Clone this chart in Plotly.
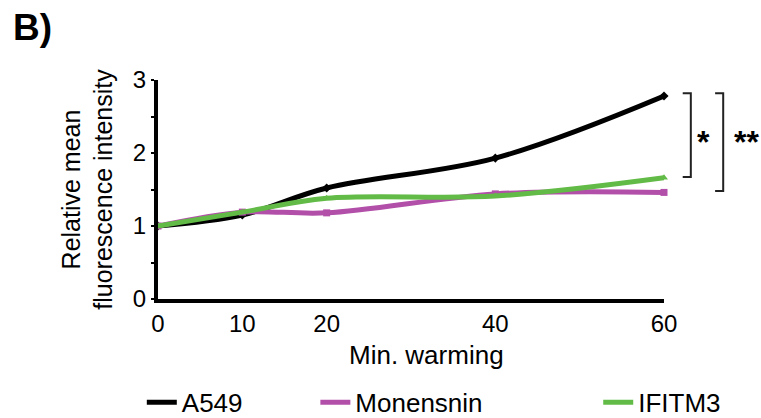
import plotly.graph_objects as go

minutes = [0, 10, 20, 40, 60]
a549 = [1.0, 1.15, 1.52, 1.93, 2.78]
monensnin = [1.0, 1.19, 1.18, 1.44, 1.46]
ifitm3 = [1.0, 1.19, 1.38, 1.41, 1.66]
x_ticks = [0, 10, 20, 40, 60]
y_ticks = [0, 1, 2, 3]

FONT = "Liberation Sans, Arial, sans-serif"
BLACK = "#000000"
MAGENTA = "#B24FA9"
GREEN = "#62BB46"

fig = go.Figure()
series = [
    ("A549", a549, BLACK, "diamond", "legend"),
    ("Monensnin", monensnin, MAGENTA, "square", "legend2"),
    ("IFITM3", ifitm3, GREEN, "triangle-up", "legend3"),
]
for name, vals, col, sym, lg in series:
    fig.add_trace(go.Scatter(
        x=minutes, y=vals, name=name, mode="lines",
        line=dict(color=col, width=5, shape="spline", smoothing=1),
        cliponaxis=False, legend=lg,
    ))
    fig.add_trace(go.Scatter(
        x=minutes, y=vals, name=name, mode="markers", showlegend=False,
        marker=dict(color=col, symbol=sym, size=7),
        cliponaxis=False, legend=lg,
    ))

# significance brackets
star_y = (a549[-1] + monensnin[-1]) / 2


def bracket(xp, y_top, y_bot, label, lx, anchor):
    fig.add_shape(type="path", xref="paper", yref="y",
                  path=f"M {xp-0.016} {y_top} L {xp} {y_top} L {xp} {y_bot} L {xp-0.016} {y_bot}",
                  line=dict(color="#222222", width=2))
    fig.add_annotation(xref="paper", yref="y", x=lx, y=star_y, yshift=2, xanchor=anchor,
                       text=f"<b>{label}</b>", showarrow=False,
                       font=dict(family=FONT, size=32, color=BLACK))

bracket(1.053, a549[-1] + 0.04, ifitm3[-1] + 0.01, "*", 1.078, "center")
bracket(1.117, a549[-1] + 0.04, monensnin[-1] + 0.02, "**", 1.134, "left")

fig.add_annotation(xref="paper", yref="paper", x=-0.29, y=1.24, xanchor="left", yanchor="middle",
                   text="<b>B)</b>", showarrow=False, font=dict(family=FONT, size=37, color=BLACK))

# x-axis title (sits slightly right of centre in the original)
fig.add_annotation(xref="paper", yref="paper", x=0.53, y=-0.256, xanchor="center", yanchor="middle",
                   text="Min. warming", showarrow=False, font=dict(family=FONT, size=26, color=BLACK))

leg_common = dict(orientation="h", yanchor="middle", y=-0.472, xanchor="left",
                  font=dict(family=FONT, size=26, color=BLACK), bgcolor="rgba(0,0,0,0)",
                  itemwidth=30, tracegroupgap=0)

fig.update_layout(
    width=761, height=418,
    margin=dict(l=158, r=97, t=80, b=119, autoexpand=False),
    paper_bgcolor="white", plot_bgcolor="white",
    font=dict(family=FONT, size=24, color=BLACK),
    showlegend=True,
    legend=dict(x=-0.032, **leg_common),
    legend2=dict(x=0.311, **leg_common),
    legend3=dict(x=0.870, **leg_common),
    xaxis=dict(range=[0, 60], tickvals=x_ticks, ticktext=[str(v) for v in x_ticks],
               showline=True, linecolor=BLACK, linewidth=4, showgrid=False, zeroline=False,
               ticks="", tickfont=dict(size=24), automargin=False),
    yaxis=dict(range=[0, 3], tickvals=y_ticks, showline=True, linecolor=BLACK, linewidth=4,
               showgrid=False, zeroline=False, ticks="outside", ticklen=3, tickwidth=2,
               tickcolor=BLACK, tickfont=dict(size=24), automargin=False,
               minor=dict(dtick=0.5, ticks="outside", ticklen=3, tickwidth=2, tickcolor=BLACK),
               title=dict(text="Relative mean<br>fluorescence intensity", standoff=14,
                          font=dict(size=25))),
)

fig.write_html(
    "out.html",
    config={"displayModeBar": False},
    post_script="document.body.style.margin='0';document.body.style.overflow='hidden';",
)
